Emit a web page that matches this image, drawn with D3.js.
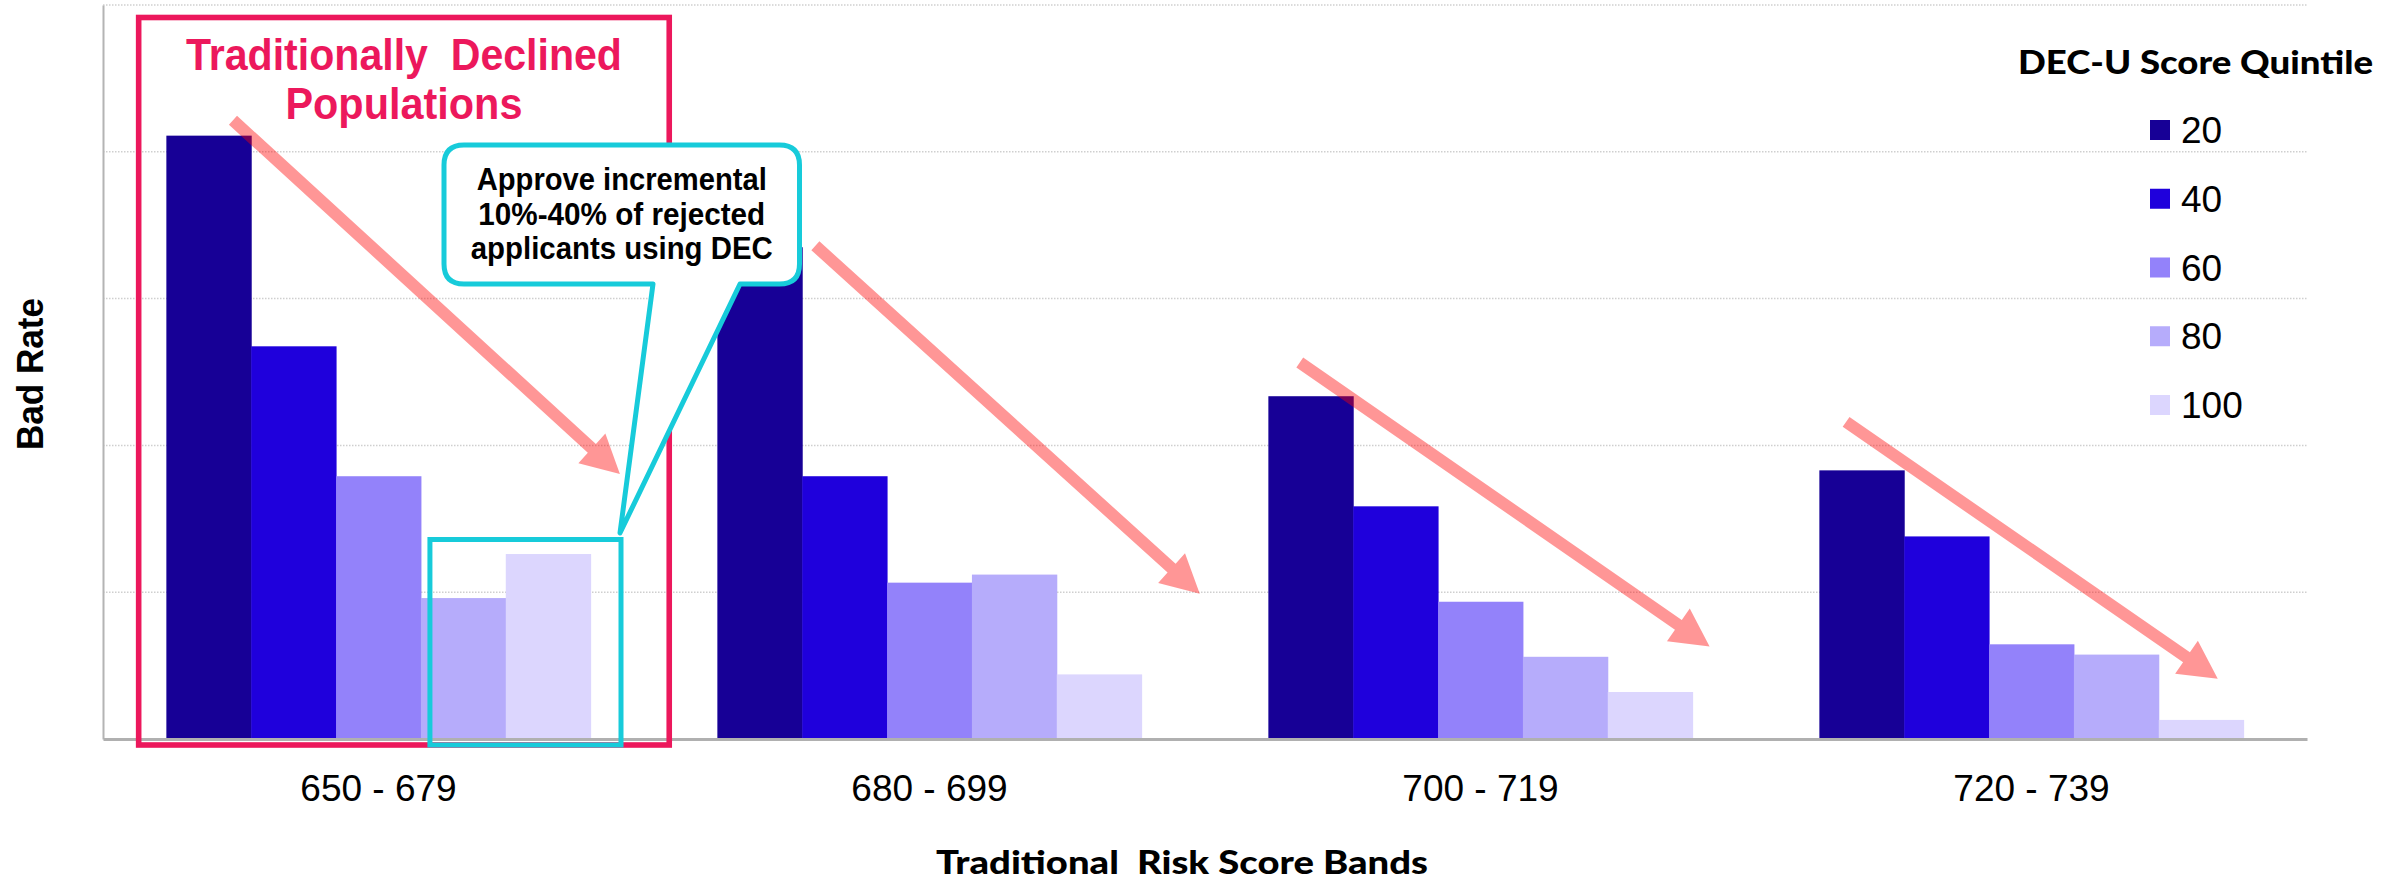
<!DOCTYPE html>
<html>
<head>
<meta charset="utf-8">
<script src="https://cdn.jsdelivr.net/npm/d3@7/dist/d3.min.js"></script>
<style>
  html, body { margin: 0; padding: 0; background: #ffffff; }
  svg { display: block; }
</style>
</head>
<body>
<svg id="chart" width="2399" height="881"></svg>
<script>
// ---------------- DATA ----------------
const categories = ["650 - 679", "680 - 699", "700 - 719", "720 - 739"];
const quintiles = ["20", "40", "60", "80", "100"];
const q20  = [8.22, 6.70, 4.67, 3.66];
const q40  = [5.35, 3.58, 3.17, 2.76];
const q60  = [3.58, 2.13, 1.87, 1.29];
const q80  = [1.92, 2.24, 1.12, 1.15];
const q100 = [2.52, 0.88, 0.64, 0.26];
const gridTicks = [0, 2, 4, 6, 8, 10];
const seriesValues = [q20, q40, q60, q80, q100];
const colors = ["#170096", "#1f00dc", "#9382fa", "#b6acfb", "#dcd6fe"];

// trend arrows: [category index, fraction of band, value] start -> tip
const trendArrows = [
  { s: [0, 0.157, 8.43], e: [0, 1.069, 3.61] },
  { s: [1, 0.231, 6.72], e: [1, 1.137, 1.98] },
  { s: [2, 0.074, 5.13], e: [2, 1.040, 1.26] },
  { s: [3, 0.063, 4.32], e: [3, 0.939, 0.82] }
];

// ---------------- LAYOUT ----------------
const svg = d3.select("#chart");
const plot = { left: 103, right: 2307, top: 5, bottom: 739 };

const x = d3.scaleBand().domain(categories)
  .range([plot.left, plot.right]).paddingInner(0.23).paddingOuter(0.115);
const xSub = d3.scaleBand().domain(quintiles).range([0, x.bandwidth()]).padding(0);
const y = d3.scaleLinear().domain([0, 10]).range([plot.bottom, plot.top]);

const rows = categories.map((c, i) => ({
  cat: c,
  vals: quintiles.map((q, j) => ({ q, v: seriesValues[j][i], j }))
}));

// gridlines
svg.append("g").selectAll("line").data(gridTicks.filter(t => t > 0)).join("line")
  .attr("x1", plot.left).attr("x2", plot.right)
  .attr("y1", d => y(d)).attr("y2", d => y(d))
  .attr("stroke", "#cfcfcf").attr("stroke-width", 1.5)
  .attr("stroke-dasharray", "1.5,1.5");

// bars
const groups = svg.append("g").selectAll("g").data(rows).join("g")
  .attr("transform", d => `translate(${x(d.cat)},0)`);
groups.selectAll("rect").data(d => d.vals).join("rect")
  .attr("x", d => xSub(d.q)).attr("width", xSub.bandwidth() + 0.5)
  .attr("y", d => y(d.v)).attr("height", d => y(0) - y(d.v))
  .attr("fill", d => colors[d.j]);

// left axis
const yAxis = svg.append("g").attr("transform", `translate(${plot.left},0)`)
  .call(d3.axisLeft(y).tickValues([]).tickSizeOuter(0));
yAxis.select(".domain").attr("stroke", "#b4b4b4").attr("stroke-width", 2);

// bottom axis
const xAxis = svg.append("g").attr("transform", `translate(0,${plot.bottom})`)
  .call(d3.axisBottom(x).tickSize(0).tickSizeOuter(0));
xAxis.select(".domain").attr("stroke", "#b0b0b0").attr("stroke-width", 3);
xAxis.selectAll(".tick text")
  .attr("y", 62).attr("dy", 0)
  .attr("font-family", "'Liberation Sans', Arial, sans-serif")
  .attr("font-size", 37).attr("fill", "#000");

// ---------------- ARROWS ----------------
function pt(a) { return [x(categories[a[0]]) + a[1] * x.bandwidth(), y(a[2])]; }
const shaftW = 12, headL = 38, headW = 40;
svg.append("g").selectAll("path").data(trendArrows).join("path")
  .attr("d", d => {
    const [sx, sy] = pt(d.s), [ex, ey] = pt(d.e);
    const len = Math.hypot(ex - sx, ey - sy);
    const ux = (ex - sx) / len, uy = (ey - sy) / len;
    const nx = -uy, ny = ux;
    const bx = ex - ux * headL, by = ey - uy * headL;
    const P = [
      [sx + nx * shaftW / 2, sy + ny * shaftW / 2],
      [bx + nx * shaftW / 2, by + ny * shaftW / 2],
      [bx + nx * headW / 2, by + ny * headW / 2],
      [ex, ey],
      [bx - nx * headW / 2, by - ny * headW / 2],
      [bx - nx * shaftW / 2, by - ny * shaftW / 2],
      [sx - nx * shaftW / 2, sy - ny * shaftW / 2]
    ];
    return "M" + P.map(p => p.join(",")).join("L") + "Z";
  })
  .attr("fill", "#ff0000").attr("fill-opacity", 0.41);

// ---------------- ANNOTATIONS ----------------
const x0 = x(categories[0]);
const bw = x.bandwidth();
// red "Traditionally Declined" box
svg.append("rect")
  .attr("x", x0 - 27.7).attr("y", y(10) + 12.5)
  .attr("width", (x0 + bw + 78.6) - (x0 - 27.7))
  .attr("height", (y(0) + 6) - (y(10) + 12.5))
  .attr("fill", "none").attr("stroke", "#ec185c").attr("stroke-width", 5.6);

const redTitle = [["Traditionally\u00a0\u00a0Declined", 70, 436], ["Populations", 119, 237]];
const redCx = x0 - 27.7 + ((x0 + bw + 78.6) - (x0 - 27.7)) / 2;
svg.append("g").selectAll("text").data(redTitle).join("text")
  .attr("x", redCx).attr("y", d => d[1])
  .attr("text-anchor", "middle")
  .attr("font-family", "'Liberation Sans', Arial, sans-serif")
  .attr("font-weight", "bold").attr("font-size", 45)
  .attr("fill", "#ec185c")
  .attr("textLength", d => d[2]).attr("lengthAdjust", "spacingAndGlyphs")
  .text(d => d[0]);

// cyan highlight box around 80/100 bars of first band
svg.append("rect")
  .attr("x", x0 + xSub("80") + 9).attr("y", 539.5)
  .attr("width", 621 - (x0 + xSub("80") + 9)).attr("height", 745 - 539.5)
  .attr("fill", "none").attr("stroke", "#17cbda").attr("stroke-width", 5);

// callout bubble
const cb = { l: 444, r: 799.5, t: 145, b: 284, rad: 20, p1: 653, p2: 740, tipX: 620, tipY: 533 };
const calloutPath = [
  `M${cb.l + cb.rad},${cb.t}`,
  `L${cb.r - cb.rad},${cb.t}`,
  `Q${cb.r},${cb.t} ${cb.r},${cb.t + cb.rad}`,
  `L${cb.r},${cb.b - cb.rad}`,
  `Q${cb.r},${cb.b} ${cb.r - cb.rad},${cb.b}`,
  `L${cb.p2},${cb.b}`,
  `L${cb.tipX},${cb.tipY}`,
  `L${cb.p1},${cb.b}`,
  `L${cb.l + cb.rad},${cb.b}`,
  `Q${cb.l},${cb.b} ${cb.l},${cb.b - cb.rad}`,
  `L${cb.l},${cb.t + cb.rad}`,
  `Q${cb.l},${cb.t} ${cb.l + cb.rad},${cb.t}`, "Z"
].join(" ");
svg.append("path").attr("d", calloutPath)
  .attr("fill", "#ffffff").attr("stroke", "#17cbda").attr("stroke-width", 5)
  .attr("stroke-linejoin", "round");

const calloutLines = [["Approve incremental", 190, 290], ["10%-40% of rejected", 225, 287], ["applicants using DEC", 259, 302]];
svg.append("g").selectAll("text").data(calloutLines).join("text")
  .attr("x", (cb.l + cb.r) / 2).attr("y", d => d[1])
  .attr("text-anchor", "middle")
  .attr("font-family", "'Liberation Sans', Arial, sans-serif")
  .attr("font-weight", "bold").attr("font-size", 31).attr("fill", "#000")
  .attr("textLength", d => d[2]).attr("lengthAdjust", "spacingAndGlyphs")
  .text(d => d[0]);

// ---------------- LEGEND ----------------
svg.append("text")
  .attr("x", 2018).attr("y", 74)
  .attr("font-family", "Lato, 'Open Sans', sans-serif")
  .attr("font-weight", "900").attr("font-size", 33).attr("fill", "#000")
  .attr("textLength", 355).attr("lengthAdjust", "spacingAndGlyphs")
  .text("DEC-U\u00a0Score\u00a0Quintile");

const legendY = d3.scalePoint().domain(quintiles).range([130, 405]);
const leg = svg.append("g").selectAll("g").data(quintiles).join("g")
  .attr("transform", d => `translate(2150,${legendY(d)})`);
leg.append("rect").attr("x", 0).attr("y", -10).attr("width", 20).attr("height", 20)
  .attr("fill", (d, i) => colors[i]);
leg.append("text").attr("x", 31).attr("y", 13)
  .attr("font-family", "'Liberation Sans', Arial, sans-serif")
  .attr("font-size", 37).attr("fill", "#000")
  .text(d => d);

// ---------------- AXIS TITLES ----------------
svg.append("text")
  .attr("x", 1182).attr("y", 874)
  .attr("text-anchor", "middle")
  .attr("font-family", "Lato, 'Open Sans', sans-serif")
  .attr("font-weight", "900").attr("font-size", 33).attr("fill", "#000")
  .attr("textLength", 492).attr("lengthAdjust", "spacingAndGlyphs")
  .text("Traditional\u00a0\u00a0Risk\u00a0Score\u00a0Bands");

svg.append("text")
  .attr("transform", "translate(43,374) rotate(-90)")
  .attr("text-anchor", "middle")
  .attr("font-family", "'Liberation Sans', Arial, sans-serif")
  .attr("font-weight", "bold").attr("font-size", 36).attr("fill", "#000")
  .attr("textLength", 152).attr("lengthAdjust", "spacingAndGlyphs")
  .text("Bad Rate");
</script>
</body>
</html>
